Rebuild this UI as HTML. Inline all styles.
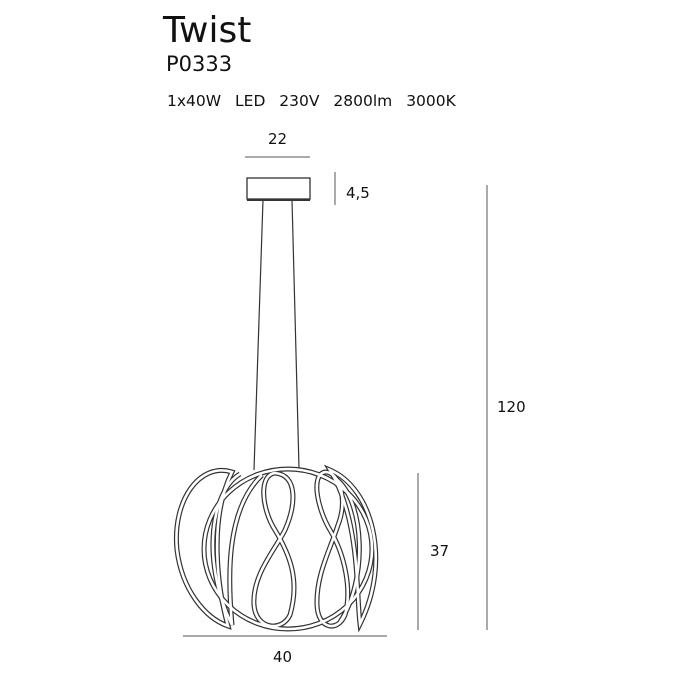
<!DOCTYPE html><html><head><style>body{margin:0;background:#fff}svg{display:block}text{font-family:"DejaVu Sans","Liberation Sans",sans-serif;fill:#111}</style></head><body>
<svg width="700" height="700" viewBox="0 0 700 700">
<text x="163" y="42" font-size="36">Twist</text>
<text x="166" y="71" font-size="21">P0333</text>
<text x="167" y="106" font-size="15.5" word-spacing="9">1x40W LED 230V 2800lm 3000K</text>
<text x="268" y="144" font-size="15">22</text>
<line x1="245" y1="157" x2="310" y2="157" stroke="#555"/>
<line x1="335" y1="172" x2="335" y2="205" stroke="#555"/>
<text x="346" y="198" font-size="15">4,5</text>
<line x1="487" y1="185" x2="487" y2="630" stroke="#555"/>
<text x="497" y="412" font-size="15">120</text>
<line x1="418" y1="473" x2="418" y2="630" stroke="#555"/>
<text x="430" y="556" font-size="15">37</text>
<line x1="183" y1="636" x2="387" y2="636" stroke="#555"/>
<text x="273" y="662" font-size="15">40</text>
<rect x="247" y="178" width="63" height="21" fill="none" stroke="#333" stroke-width="1.3"/>
<line x1="247" y1="200" x2="310" y2="200" stroke="#333" stroke-width="2"/>
<line x1="263" y1="200" x2="254" y2="470" stroke="#333" stroke-width="1.2"/>
<line x1="292" y1="200" x2="299" y2="468" stroke="#333" stroke-width="1.2"/>
<g fill="none" stroke="#333" stroke-width="5"><g id="g">
<ellipse cx="288" cy="549" rx="84" ry="80"/>
<path d="M232 472 C200 462 172 500 177 550 C182 590 205 618 228 626 C218 590 208 520 232 472Z"/>
<path d="M240 474 C212 490 200 560 232 625 C228 580 225 510 262 475"/>
<path d="M275 473 C258 475 262 510 275 530 C290 555 300 580 290 615 C282 632 256 630 254 605 C252 575 275 550 285 530 C296 505 298 475 275 473Z"/>
<path d="M325 472 C310 475 318 510 330 530 C345 555 352 590 345 615 C338 632 318 630 317 605 C316 575 330 550 338 525 C348 500 340 472 325 472Z"/>
<path d="M330 470 C372 488 392 560 360 624 C356 590 360 520 330 470Z"/>
<path d="M335 478 C365 500 368 580 340 622"/>
</g></g>
<g fill="none" stroke="#fff" stroke-width="2.6"><use href="#g"/></g>
</svg></body></html>
